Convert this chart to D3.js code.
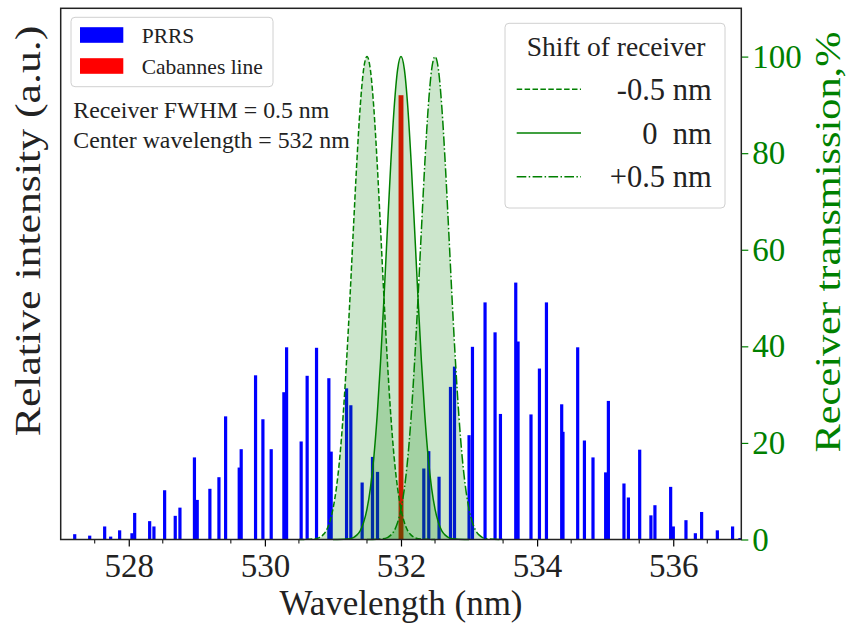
<!DOCTYPE html>
<html>
<head>
<meta charset="utf-8">
<script src="https://cdn.jsdelivr.net/npm/d3@7"></script>
<style>
body { margin: 0; background: #fff; }
svg { font-family: "Liberation Serif", "Times New Roman", serif; }
</style>
</head>
<body>
<svg id="chart" width="848" height="628"></svg>
<script>
// PRRS line positions (nm) and relative intensities
const prrsWl = [
  527.206, 527.426, 527.646, 527.734, 527.866, 528.047, 528.087, 528.307, 528.370,
  528.527, 528.683, 528.752, 528.965, 529.006, 529.192, 529.325, 529.423, 529.623,
  529.652, 529.863, 529.971, 530.093, 530.279, 530.319, 530.533, 530.621, 530.759,
  530.940, 530.974, 531.200, 531.263, 531.429, 531.581, 531.655,
  532.335, 532.408, 532.559, 532.727, 532.786, 533.000, 533.050, 533.235, 533.382,
  533.461, 533.686, 533.720, 533.910, 534.034, 534.137, 534.361, 534.380, 534.596,
  534.695, 534.821, 535.007, 535.047, 535.276, 535.341, 535.507, 535.672, 535.731,
  535.962, 536.001, 536.187, 536.325, 536.417, 536.648, 536.872, 536.980
];
const prrsInt = [
  1.1, 0.8, 2.7, 0.6, 1.9, 1.3, 5.5, 3.8, 2.7,
  10.2, 4.9, 6.6, 17.0, 8.2, 10.5, 12.9, 25.5, 14.9,
  18.7, 34.0, 24.9, 18.7, 30.5, 39.8, 20.3, 33.9, 39.7,
  33.4, 18.2, 31.3, 27.8, 11.8, 17.1, 14.0,
  14.7, 18.3, 13.0, 31.6, 35.8, 21.6, 39.9, 49.1, 42.9,
  26.0, 53.2, 41.0, 25.9, 35.4, 49.1, 28.0, 22.3, 39.8,
  20.5, 17.0, 13.9, 28.7, 11.6, 8.7, 18.6, 5.0, 7.1,
  10.9, 2.7, 4.0, 1.3, 5.7, 1.9, 2.7, 0.3
];
const cabannesWl = 532;
const cabannesInt = 92;

// receiver transmission profile (%), offset from filter centre (nm)
const profileOffset = [-1.0, -0.8, -0.7, -0.65, -0.6, -0.55, -0.5, -0.45, -0.4, -0.35, -0.3, -0.25, -0.2, -0.15, -0.1, -0.05,
  0, 0.05, 0.1, 0.15, 0.2, 0.25, 0.3, 0.35, 0.4, 0.45, 0.5, 0.55, 0.6, 0.65, 0.7, 0.8, 1.0];
const profileT = [0, 0.1, 0.4, 0.9, 1.8, 3.5, 6.3, 10.6, 16.9, 25.7, 36.9, 50.0, 64.2, 77.9, 89.5, 97.3,
  100, 97.3, 89.5, 77.9, 64.2, 50.0, 36.9, 25.7, 16.9, 10.6, 6.3, 3.5, 1.8, 0.9, 0.4, 0.1, 0];
const shifts = [-0.5, 0, 0.5];
const shiftLabels = ['-0.5 nm', '0  nm', '+0.5 nm'];
const shiftDash = ['5.5,2.4', null, '9.6,2.4,1.5,2.4'];

const xTicks = [528, 530, 532, 534, 536];
const xMinor = [527.5, 528.5, 529.5, 530.5, 531.5, 532.5, 533.5, 534.5, 535.5, 536.5];
const yTicks = [0, 20, 40, 60, 80, 100];

const svg = d3.select('#chart');
const mLeft = 60.7, mRight = 741.3, mTop = 8.3, mBottom = 539.5;
const green = '#008000';

const x = d3.scaleLinear().domain([527, 537]).range([mLeft, mRight]);
const yI = d3.scaleLinear().domain([0, 110]).range([mBottom, mTop]);
const yT = d3.scaleLinear().domain([0, 110]).range([mBottom, mTop]);

const barW = 0.047;

// bars
svg.append('g')
  .selectAll('rect')
  .data(prrsWl)
  .enter()
  .append('rect')
  .attr('x', d => x(d - barW / 2))
  .attr('width', x(barW) - x(0))
  .attr('y', (d, i) => yI(prrsInt[i]))
  .attr('height', (d, i) => yI(0) - yI(prrsInt[i]))
  .attr('fill', '#0000ff');

svg.append('rect')
  .attr('x', x(cabannesWl - 0.036))
  .attr('width', x(0.072) - x(0))
  .attr('y', yI(cabannesInt))
  .attr('height', yI(0) - yI(cabannesInt))
  .attr('fill', '#ff0000');

// receiver curves
const curves = shifts.map(s => profileOffset.map((o, i) => [cabannesWl + s + o, profileT[i]]));

const area = d3.area()
  .x(d => x(d[0]))
  .y0(yT(0))
  .y1(d => yT(d[1]))
  .curve(d3.curveMonotoneX);

const line = d3.line()
  .x(d => x(d[0]))
  .y(d => yT(d[1]))
  .curve(d3.curveMonotoneX);

svg.append('g')
  .selectAll('path')
  .data(curves)
  .enter()
  .append('path')
  .attr('d', area)
  .attr('fill', green)
  .attr('fill-opacity', 0.2);

svg.append('g')
  .selectAll('path')
  .data(curves)
  .enter()
  .append('path')
  .attr('d', line)
  .attr('fill', 'none')
  .attr('stroke', green)
  .attr('stroke-width', 1.5)
  .attr('stroke-dasharray', (d, i) => shiftDash[i]);

// axes
let xAxis = svg.append('g')
  .attr('transform', `translate(0,${mBottom})`)
  .call(d3.axisBottom(x).tickValues(xTicks).tickSize(7).tickPadding(7).tickFormat(d3.format('d')));
xAxis.select('.domain').remove();
xAxis.selectAll('line').attr('stroke', '#000').attr('stroke-width', 1.2);
xAxis.selectAll('text').attr('font-size', 33).attr('fill', '#222');
xAxis.attr('font-family', null);

svg.append('g')
  .selectAll('line')
  .data(xMinor)
  .enter()
  .append('line')
  .attr('x1', d => x(d))
  .attr('x2', d => x(d))
  .attr('y1', mBottom)
  .attr('y2', mBottom + 4)
  .attr('stroke', '#000')
  .attr('stroke-width', 1);

let yAxis = svg.append('g')
  .attr('transform', `translate(${mRight},0)`)
  .call(d3.axisRight(yT).tickValues(yTicks).tickSize(7).tickPadding(4));
yAxis.select('.domain').remove();
yAxis.selectAll('line').attr('stroke', green).attr('stroke-width', 1.2);
yAxis.selectAll('text').attr('font-size', 33).attr('fill', green);
yAxis.attr('font-family', null);

// frame
svg.append('rect')
  .attr('x', mLeft)
  .attr('y', mTop)
  .attr('width', mRight - mLeft)
  .attr('height', mBottom - mTop)
  .attr('fill', 'none')
  .attr('stroke', '#222')
  .attr('stroke-width', 1.5);

// axis labels
svg.append('text')
  .attr('x', (mLeft + mRight) / 2)
  .attr('y', 615)
  .attr('text-anchor', 'middle')
  .attr('font-size', 35)
  .attr('fill', '#222')
  .text('Wavelength (nm)');

svg.append('text')
  .attr('transform', 'translate(40,231) rotate(-90) scale(1.25,1)')
  .attr('text-anchor', 'middle')
  .attr('font-size', 35)
  .attr('fill', '#222')
  .text('Relative intensity (a.u.)');

svg.append('text')
  .attr('transform', 'translate(840,242) rotate(-90) scale(1.21,1)')
  .attr('text-anchor', 'middle')
  .attr('font-size', 35)
  .attr('fill', green)
  .text('Receiver transmission,%');

// left legend
svg.append('rect')
  .attr('x', 71).attr('y', 17.3).attr('width', 202).attr('height', 69.4)
  .attr('rx', 4).attr('fill', '#fff').attr('fill-opacity', 0.8)
  .attr('stroke', '#d0d0d0').attr('stroke-width', 1);

const legendItems = [['PRRS', '#0000ff', 35], ['Cabannes line', '#ff0000', 66]];
legendItems.forEach(item => {
  svg.append('rect')
    .attr('x', 80).attr('y', item[2] - 7.8).attr('width', 43.3).attr('height', 15.6)
    .attr('fill', item[1]);
  svg.append('text')
    .attr('x', 141.7).attr('y', item[2]).attr('dy', '0.35em')
    .attr('font-size', 21.5).attr('fill', '#222')
    .text(item[0]);
});

svg.append('text')
  .attr('x', 73.3).attr('y', 110).attr('dy', '0.35em')
  .attr('font-size', 23.8).attr('fill', '#222')
  .text('Receiver FWHM = 0.5 nm');
svg.append('text')
  .attr('x', 73.3).attr('y', 140).attr('dy', '0.35em')
  .attr('font-size', 23.8).attr('fill', '#222')
  .text('Center wavelength = 532 nm');

// right legend
svg.append('rect')
  .attr('x', 505).attr('y', 23.3).attr('width', 220).attr('height', 184.7)
  .attr('rx', 4).attr('fill', '#fff').attr('fill-opacity', 0.8)
  .attr('stroke', '#d0d0d0').attr('stroke-width', 1);

svg.append('text')
  .attr('x', 616).attr('y', 46.7).attr('dy', '0.35em')
  .attr('text-anchor', 'middle')
  .attr('font-size', 27.5).attr('fill', '#222')
  .text('Shift of receiver');

const legendY = [89.3, 133, 176.7];
shifts.forEach((s, i) => {
  svg.append('line')
    .attr('x1', 516.7).attr('x2', 581).attr('y1', legendY[i]).attr('y2', legendY[i])
    .attr('stroke', green).attr('stroke-width', 1.5)
    .attr('stroke-dasharray', shiftDash[i]);
  svg.append('text')
    .attr('x', 711.7).attr('y', legendY[i]).attr('dy', '0.35em')
    .attr('text-anchor', 'end')
    .attr('font-size', 30.5).attr('fill', '#222')
    .style('white-space', 'pre')
    .text(shiftLabels[i]);
});
</script>
</body>
</html>
